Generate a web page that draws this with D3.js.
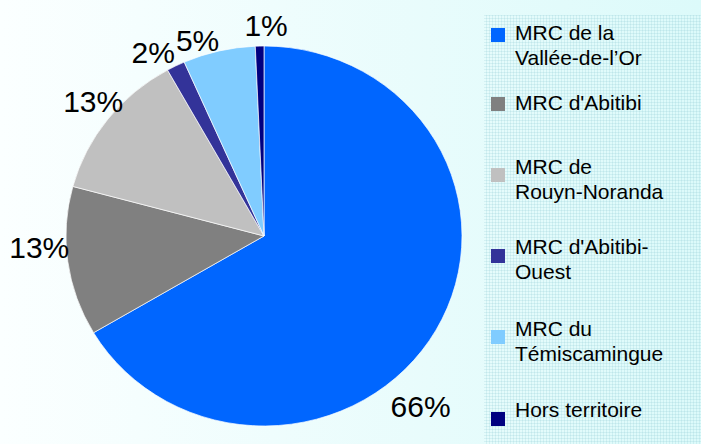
<!DOCTYPE html>
<html>
<head>
<meta charset="utf-8">
<script src="https://cdn.jsdelivr.net/npm/d3@7"></script>
<style>
  body { margin: 0; padding: 0; overflow: hidden; }
  svg { display: block; font-family: "Liberation Sans", Arial, sans-serif; }
</style>
</head>
<body>
<script>
// slices, clockwise from 12 o'clock
var categories = ["MRC de la Vallée-de-l\u2019Or", "MRC d'Abitibi", "MRC de Rouyn-Noranda",
                  "MRC d'Abitibi-Ouest", "MRC du Témiscamingue", "Hors territoire"];
var values = [66.5, 12.7, 12.7, 1.5, 5.9, 0.7];
var pctLabels = ["66%", "13%", "13%", "2%", "5%", "1%"];
// legend text as it wraps in the picture
var legendLines = [["MRC de la", "Vallée-de-l\u2019Or"], ["MRC d'Abitibi"], ["MRC de", "Rouyn-Noranda"],
                   ["MRC d'Abitibi-", "Ouest"], ["MRC du", "Témiscamingue"], ["Hors territoire"]];
var colours = ["#0066ff", "#808080", "#c0c0c0", "#333399", "#80ccff", "#000080"];

// layout only
var labelNudge = [[-36, 65], [-5, -17], [4, -4], [-12, 7], [-16, 11], [7, 2]];
var legendBoxY = [28, 97, 168, 249, 330, 412];
var legendTextY = [40, 110, 174, 254, 336, 417];

window.onload = function() {
    drawPie();
};

function drawPie() {
    var W = 701, H = 444;
    var svg = d3.select("body").append("svg").attr("width", W).attr("height", H);
    var defs = svg.append("defs");

    // background gradient, white-ish to pale cyan
    var grad = defs.append("linearGradient").attr("id", "bg").attr("x1", 0).attr("x2", 1).attr("y1", 0).attr("y2", 0);
    grad.append("stop").attr("offset", "0%").attr("stop-color", "#fbffff");
    grad.append("stop").attr("offset", "100%").attr("stop-color", "#dcfafa");
    svg.append("rect").attr("width", W).attr("height", H).attr("fill", "url(#bg)");

    // fine grid texture behind the legend
    var pat = defs.append("pattern").attr("id", "grid").attr("patternUnits", "userSpaceOnUse")
        .attr("width", 3).attr("height", 3);
    pat.append("rect").attr("width", 3).attr("height", 1).attr("fill", "rgba(140,200,210,0.22)");
    pat.append("rect").attr("width", 1).attr("height", 3).attr("fill", "rgba(140,200,210,0.22)");
    svg.append("rect").attr("x", 484).attr("y", 15).attr("width", W - 484).attr("height", H - 15)
        .attr("fill", "url(#grid)");

    var cx = 264, cy = 236, rx = 198, ry = 190;

    var pie = d3.pie().sort(null).value(function(d) { return d; });
    var arcs = pie(values);
    var arc = d3.arc().innerRadius(0).outerRadius(rx);

    var g = svg.append("g")
        .attr("transform", "translate(" + cx + "," + cy + ") scale(1," + (ry / rx) + ")");

    g.selectAll("path")
        .data(arcs)
        .enter()
        .append("path")
        .attr("d", arc)
        .attr("fill", function(d, i) { return colours[i]; })
        .attr("stroke", "#ffffff")
        .attr("stroke-width", 0.7);

    // percentage labels just outside the rim
    var k = 1.12;
    svg.selectAll(".pct")
        .data(arcs)
        .enter()
        .append("text")
        .attr("class", "pct")
        .attr("x", function(d, i) {
            var a = (d.startAngle + d.endAngle) / 2;
            return cx + rx * k * Math.sin(a) + labelNudge[i][0];
        })
        .attr("y", function(d, i) {
            var a = (d.startAngle + d.endAngle) / 2;
            return cy - ry * k * Math.cos(a) + labelNudge[i][1];
        })
        .attr("dy", "0.36em")
        .attr("text-anchor", "middle")
        .style("font-size", "30px")
        .attr("fill", "#000")
        .text(function(d, i) { return pctLabels[i]; });

    // legend
    var leg = svg.append("g").attr("class", "legend");
    var items = leg.selectAll("g")
        .data(categories)
        .enter()
        .append("g");

    items.append("rect")
        .attr("x", 491)
        .attr("y", function(d, i) { return legendBoxY[i]; })
        .attr("width", 14)
        .attr("height", 14)
        .attr("fill", function(d, i) { return colours[i]; });

    items.each(function(d, i) {
        var t = d3.select(this).append("text")
            .attr("x", 515)
            .attr("y", legendTextY[i])
            .style("font-size", "21px")
            .attr("fill", "#000");
        legendLines[i].forEach(function(line, j) {
            t.append("tspan")
                .attr("x", 515)
                .attr("dy", j === 0 ? 0 : 25)
                .text(line);
        });
    });
}
</script>
</body>
</html>
